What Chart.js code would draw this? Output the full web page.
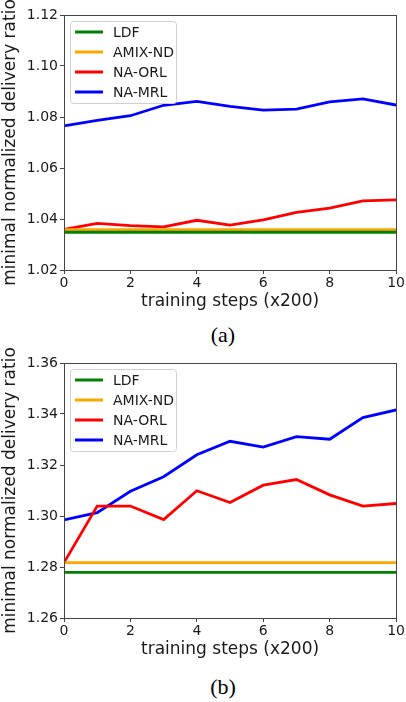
<!DOCTYPE html>
<html>
<head>
<meta charset="utf-8">
<script src="https://cdn.jsdelivr.net/npm/chart.js@4.4.1/dist/chart.umd.min.js"></script>
<style>
  html, body { margin: 0; padding: 0; background: #fff; width: 406px; height: 702px; overflow: hidden; }
  .wrap { position: absolute; left: 0; width: 406px; height: 312px; }
  .cap { position: absolute; width: 406px; text-align: center; font-family: "Liberation Serif", "DejaVu Serif", serif; font-size: 22px; color: #000; }
</style>
</head>
<body>
<div class="wrap" style="top:0"><canvas id="ca" width="406" height="312"></canvas></div>
<div class="cap" style="top:322px; left:20px;">(a)</div>
<div class="wrap" style="top:348px"><canvas id="cb" width="406" height="312"></canvas></div>
<div class="cap" style="top:674px; left:20px;">(b)</div>
<script>
// ---- data ----
const steps = [0, 1, 2, 3, 4, 5, 6, 7, 8, 9, 10];
const seriesNames = ["LDF", "AMIX-ND", "NA-ORL", "NA-MRL"];

const ldfA  = [1.0348, 1.0348, 1.0348, 1.0348, 1.0348, 1.0348, 1.0348, 1.0348, 1.0348, 1.0348, 1.0348];
const amixA = [1.0358, 1.0358, 1.0358, 1.0358, 1.0358, 1.0358, 1.0358, 1.0358, 1.0358, 1.0358, 1.0358];
const orlA  = [1.0359, 1.0383, 1.0374, 1.0369, 1.0395, 1.0376, 1.0397, 1.0426, 1.0443, 1.0471, 1.0475];
const mrlA  = [1.0765, 1.0787, 1.0805, 1.0846, 1.0861, 1.0842, 1.0827, 1.0831, 1.0859, 1.0871, 1.0847];

const ldfB  = [1.2779, 1.2779, 1.2779, 1.2779, 1.2779, 1.2779, 1.2779, 1.2779, 1.2779, 1.2779, 1.2779];
const amixB = [1.2817, 1.2817, 1.2817, 1.2817, 1.2817, 1.2817, 1.2817, 1.2817, 1.2817, 1.2817, 1.2817];
const orlB  = [1.2817, 1.3039, 1.3039, 1.2986, 1.3099, 1.3053, 1.3121, 1.3143, 1.3083, 1.3039, 1.3049];
const mrlB  = [1.2985, 1.3013, 1.3097, 1.3154, 1.3240, 1.3293, 1.3270, 1.3311, 1.3301, 1.3386, 1.3416];

const yTicksA = [1.02, 1.04, 1.06, 1.08, 1.10, 1.12];
const yTicksB = [1.26, 1.28, 1.30, 1.32, 1.34, 1.36];
const xTicks = [0, 2, 4, 6, 8, 10];

const xTitle = "training steps (x200)";
const yTitle = "minimal normalized delivery ratio";

// ---- styles ----
const colors = ["#008000", "#FFA500", "#FF0000", "#0000FF"];
const FONT = "'DejaVu Sans', sans-serif";
const TEXT = "#1a1a1a";
const SPINE = "#444";

const frameAndLegend = {
  id: "frameAndLegend",
  afterDatasetsDraw(chart) {
    const { ctx, chartArea: a } = chart;
    ctx.save();
    ctx.strokeStyle = SPINE;
    ctx.lineWidth = 1;
    ctx.strokeRect(Math.round(a.left) + 0.5, Math.round(a.top) + 0.5, Math.round(a.right - a.left), Math.round(a.bottom - a.top));
    // legend box
    const bx = a.left + 6, by = a.top + 6, bw = 106, bh = 82;
    ctx.fillStyle = "rgba(255,255,255,0.85)";
    ctx.strokeStyle = "#d0d0d0";
    ctx.beginPath();
    if (ctx.roundRect) ctx.roundRect(bx + 0.5, by + 0.5, bw, bh, 3); else ctx.rect(bx + 0.5, by + 0.5, bw, bh);
    ctx.fill();
    ctx.stroke();
    ctx.font = "14px " + FONT;
    ctx.textBaseline = "middle";
    chart.data.datasets.forEach((ds, i) => {
      const y = by + 11 + i * 20;
      ctx.strokeStyle = ds.borderColor;
      ctx.lineWidth = 3;
      ctx.beginPath();
      ctx.moveTo(bx + 5, y);
      ctx.lineTo(bx + 33, y);
      ctx.stroke();
      ctx.fillStyle = TEXT;
      ctx.fillText(ds.label, bx + 43, y + 1);
    });
    ctx.restore();
  }
};

function makeChart(id, series, yTicks) {
  const datasets = series.map((vals, i) => ({
    label: seriesNames[i],
    data: steps.map((s, j) => ({ x: s, y: vals[j] })),
    borderColor: colors[i],
    backgroundColor: colors[i],
    borderWidth: 2.8,
    pointRadius: 0,
    tension: 0,
    fill: false
  }));
  return new Chart(document.getElementById(id), {
    type: "line",
    data: { datasets },
    plugins: [frameAndLegend],
    options: {
      responsive: false,
      animation: false,
      layout: { padding: { top: 15, right: 9, left: 0, bottom: 0 } },
      plugins: { legend: { display: false }, tooltip: { enabled: false } },
      scales: {
        x: {
          type: "linear",
          min: 0, max: 10,
          afterBuildTicks: (sc) => { sc.ticks = xTicks.map(v => ({ value: v })); },
          ticks: { color: TEXT, font: { family: FONT, size: 14 }, padding: 1, maxRotation: 0 },
          grid: { drawOnChartArea: false, color: SPINE, tickLength: 4, tickWidth: 1 },
          border: { color: SPINE, width: 1 },
          title: { display: true, text: xTitle, color: TEXT, font: { family: FONT, size: 17 }, padding: { top: 0, bottom: 0 } },
          afterFit: (sc) => { sc.height = 42; }
        },
        y: {
          min: yTicks[0], max: yTicks[yTicks.length - 1],
          afterBuildTicks: (sc) => { sc.ticks = yTicks.map(v => ({ value: v })); },
          ticks: { color: TEXT, font: { family: FONT, size: 14 }, padding: 2, callback: (v) => Number(v).toFixed(2) },
          grid: { drawOnChartArea: false, color: SPINE, tickLength: 4, tickWidth: 1 },
          border: { color: SPINE, width: 1 },
          title: { display: true, text: yTitle, color: TEXT, font: { family: FONT, size: 17 }, padding: { top: 0, bottom: 0 } },
          afterFit: (sc) => { sc.width = 64; }
        }
      }
    }
  });
}

makeChart("ca", [ldfA, amixA, orlA, mrlA], yTicksA);
makeChart("cb", [ldfB, amixB, orlB, mrlB], yTicksB);
</script>
</body>
</html>
